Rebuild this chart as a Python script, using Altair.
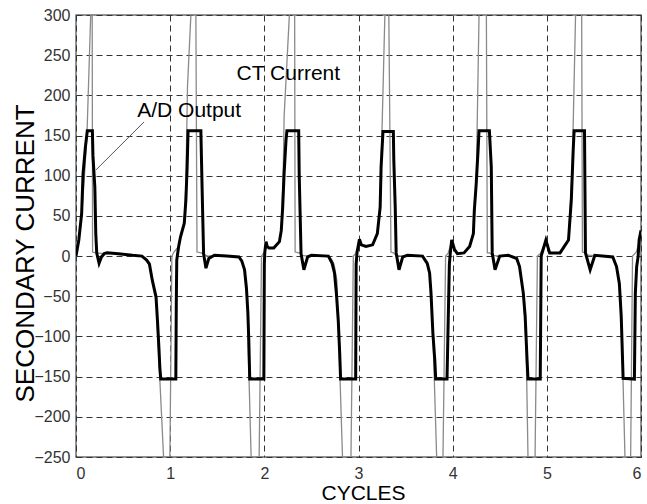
import altair as alt
import pandas as pd

# ---------------- data ----------------
# A/D output (thick black)
ad_x = [0.0, 0.03, 0.06, 0.075, 0.10, 0.12, 0.174, 0.18, 0.19, 0.20, 0.21, 0.22, 0.245, 0.27, 0.30, 0.33, 0.45, 0.60, 0.70, 0.75, 0.78, 0.81, 0.85, 0.865, 0.88, 0.89, 0.90, 1.06,
        1.065, 1.07, 1.09, 1.11, 1.15, 1.167, 1.18, 1.19, 1.326, 1.34, 1.355, 1.38, 1.41, 1.47, 1.60, 1.73, 1.76, 1.79, 1.81, 1.825, 1.835, 1.845, 1.995,
        2.0, 2.005, 2.018, 2.03, 2.05, 2.10, 2.16, 2.18, 2.195, 2.21, 2.23, 2.24, 2.365, 2.37, 2.38, 2.39, 2.42, 2.46, 2.50, 2.68, 2.72, 2.745, 2.765, 2.785, 2.80, 2.81, 2.97,
        2.975, 2.985, 3.01, 3.03, 3.08, 3.15, 3.20, 3.23, 3.24, 3.26, 3.37, 3.375, 3.39, 3.40, 3.43, 3.47, 3.52, 3.68, 3.73, 3.755, 3.77, 3.79, 3.81, 3.82, 3.94,
        3.965, 3.975, 3.99, 4.02, 4.05, 4.12, 4.18, 4.22, 4.23, 4.25, 4.27, 4.28, 4.39, 4.41, 4.42, 4.45, 4.50, 4.59, 4.68, 4.71, 4.75, 4.77, 4.79, 4.80, 4.93,
        4.94, 4.99, 5.03, 5.14, 5.23, 5.26, 5.28, 5.29, 5.40, 5.41, 5.46, 5.51, 5.70, 5.74, 5.77, 5.79, 5.80, 5.81, 5.93, 5.94, 5.954, 5.97, 5.98, 6.0]
ad_y = [0, 20, 53, 103, 136, 156, 156, 125, 105, 86, 28, 4, -9, -1, 3, 4, 3, 1, 0, -5, -10, -30, -51, -80, -113, -138, -153, -153,
        -60, -5, 12, 24, 41, 70, 110, 156, 156, 80, 3, -15, -3, 1, 0, -1, -6, -17, -40, -70, -105, -153, -153,
        -10, 5, 18, 12, 10, 10, 18, 32, 61, 103, 144, 156, 156, 103, 53, 3, -17, -1, 1, 0, -9, -21, -46, -80, -120, -153, -153,
        -10, 5, 21, 14, 12, 14, 28, 61, 111, 155, 155, 119, 61, 4, -17, -1, 1, 0, -9, -21, -46, -96, -129, -153, -153,
        -10, 4, 20, 8, 3, 4, 12, 28, 57, 90, 132, 156, 156, 111, 4, -17, 0, 1, -3, -13, -46, -75, -129, -153, -153,
        0, 20, 4, 4, 20, 70, 132, 156, 156, 4, -17, 1, -1, -13, -34, -75, -113, -152, -153, -46, -13, 0, 20, 32]

# CT current (thin grey, runs off the axes)
ct_x = [0.0, 0.03, 0.06, 0.09, 0.117, 0.156, 0.165, 0.172, 0.176, 0.21, 0.30, 0.45, 0.60, 0.70, 0.75, 0.78, 0.81, 0.85, 0.865, 0.93, 0.965, 0.997, 1.018, 1.04,
        1.09, 1.11, 1.15, 1.167, 1.184, 1.22, 1.25, 1.273, 1.285, 1.33, 1.36, 1.40, 1.47, 1.60, 1.73, 1.76, 1.79, 1.82, 1.83, 1.86, 1.90, 1.945, 1.97, 2.0,
        2.03, 2.05, 2.10, 2.16, 2.18, 2.20, 2.21, 2.266, 2.30, 2.322, 2.327, 2.37, 2.40, 2.46, 2.50, 2.68, 2.72, 2.74, 2.77, 2.79, 2.83, 2.88, 2.92, 2.945, 2.97,
        3.01, 3.03, 3.08, 3.15, 3.20, 3.23, 3.24, 3.28, 3.30, 3.322, 3.345, 3.37, 3.40, 3.47, 3.52, 3.68, 3.73, 3.755, 3.77, 3.79, 3.83, 3.86, 3.897, 3.925, 3.95,
        3.99, 4.02, 4.05, 4.12, 4.18, 4.22, 4.25, 4.28, 4.32, 4.358, 4.368, 4.39, 4.42, 4.50, 4.59, 4.68, 4.71, 4.75, 4.78, 4.80, 4.84, 4.875, 4.90, 4.93,
        4.99, 5.03, 5.14, 5.23, 5.27, 5.305, 5.34, 5.37, 5.378, 5.41, 5.44, 5.51, 5.70, 5.74, 5.77, 5.79, 5.80, 5.83, 5.86, 5.89, 5.91, 5.95, 6.0]
ct_y = [0, 20, 50, 100, 153, 300, 700, 300, 5, 4, 3, 3, 1, 0, -5, -10, -30, -51, -92, -250, -700, -250, 0, 5,
        12, 24, 41, 90, 211, 300, 700, 300, 5, 4, 2, 0, 1, 0, -1, -6, -17, -51, -120, -250, -700, -250, 0, 5,
        12, 10, 10, 18, 32, 100, 173, 300, 700, 300, 5, 4, 1, 0, 1, 0, -5, -10, -30, -100, -250, -700, -250, 0, 3,
        18, 14, 12, 14, 28, 61, 111, 300, 700, 300, 5, 4, 1, 0, 1, 0, -9, -21, -46, -96, -250, -700, -250, 0, 3,
        18, 8, 3, 4, 12, 28, 90, 300, 700, 300, 4, 4, 1, 0, 1, -3, -13, -46, -110, -250, -700, -250, 0, 3,
        18, 4, 4, 20, 110, 300, 700, 300, 5, 4, 1, 1, -1, -13, -34, -75, -113, -250, -700, -250, 0, 5, 25]

# annotations
label_text = ["CT Current", "A/D Output"]
label_x = [2.255, 1.202]
label_y = [226, 180]
leader_x = [0.21]
leader_y = [107]
leader_x2 = [0.723]
leader_y2 = [167]

x_ticks = [0, 1, 2, 3, 4, 5, 6]
y_ticks = [-250, -200, -150, -100, -50, 0, 50, 100, 150, 200, 250, 300]

# ---------------- chart ----------------
FONT = "Liberation Sans"

ad = pd.DataFrame({"x": ad_x, "y": ad_y, "o": range(len(ad_x))})
ct = pd.DataFrame({"x": ct_x, "y": ct_y, "o": range(len(ct_x))})
labels = pd.DataFrame({"t": label_text, "x": label_x, "y": label_y})
leader = pd.DataFrame({"x": leader_x, "y": leader_y, "x2": leader_x2, "y2": leader_y2})

xscale = alt.Scale(domain=[0, 6], nice=False, zero=False)
yscale = alt.Scale(domain=[-250, 300], nice=False, zero=False)

xaxis = alt.Axis(values=x_ticks, title="CYCLES", format="d",
                 titleX=287, titleY=42, titleBaseline="alphabetic", titleAlign="center")
yaxis = alt.Axis(values=y_ticks, title="SECONDARY CURRENT", format="d",
                 titleX=-43, titleY=238, titleBaseline="alphabetic", titleAlign="center", titleAngle=270)

ct_line = alt.Chart(ct).mark_line(color="#8a8a8a", strokeWidth=1.3, clip=True).encode(
    x=alt.X("x:Q", scale=xscale, axis=xaxis),
    y=alt.Y("y:Q", scale=yscale, axis=yaxis),
    order="o:Q",
)

ad_line = alt.Chart(ad).mark_line(color="#000000", strokeWidth=3, clip=True, strokeJoin="miter").encode(
    x=alt.X("x:Q", scale=xscale),
    y=alt.Y("y:Q", scale=yscale),
    order="o:Q",
)

leader_rule = alt.Chart(leader).mark_rule(color="#555555", strokeWidth=1).encode(
    x="x:Q", y="y:Q", x2="x2:Q", y2="y2:Q"
)

text = alt.Chart(labels).mark_text(font=FONT, fontSize=21, color="#000000", align="center", baseline="middle").encode(
    x="x:Q", y="y:Q", text="t:N"
)

chart = alt.layer(ct_line, ad_line, leader_rule, text).properties(
    width=565,
    height=442,
    autosize=alt.AutoSizeParams(type="none"),
    padding={"left": 76, "top": 15, "right": 6, "bottom": 47},
    background="white",
).configure_view(
    stroke="#6e6e6e", strokeWidth=1.5
).configure_axis(
    grid=True,
    gridColor="#333333",
    gridDash=[6, 4],
    gridWidth=1,
    gridOpacity=1,
    domain=False,
    ticks=False,
    labelFont=FONT,
    labelFontSize=16,
    labelColor="#333333",
    titleFont=FONT,
    titleFontWeight="normal",
    titleColor="#000000",
).configure_axisX(
    labelPadding=8,
    titleFontSize=21,
).configure_axisY(
    labelPadding=6,
    titleFontSize=26,
)

chart.save("out.html", embed_options={"renderer": "svg", "actions": False})
